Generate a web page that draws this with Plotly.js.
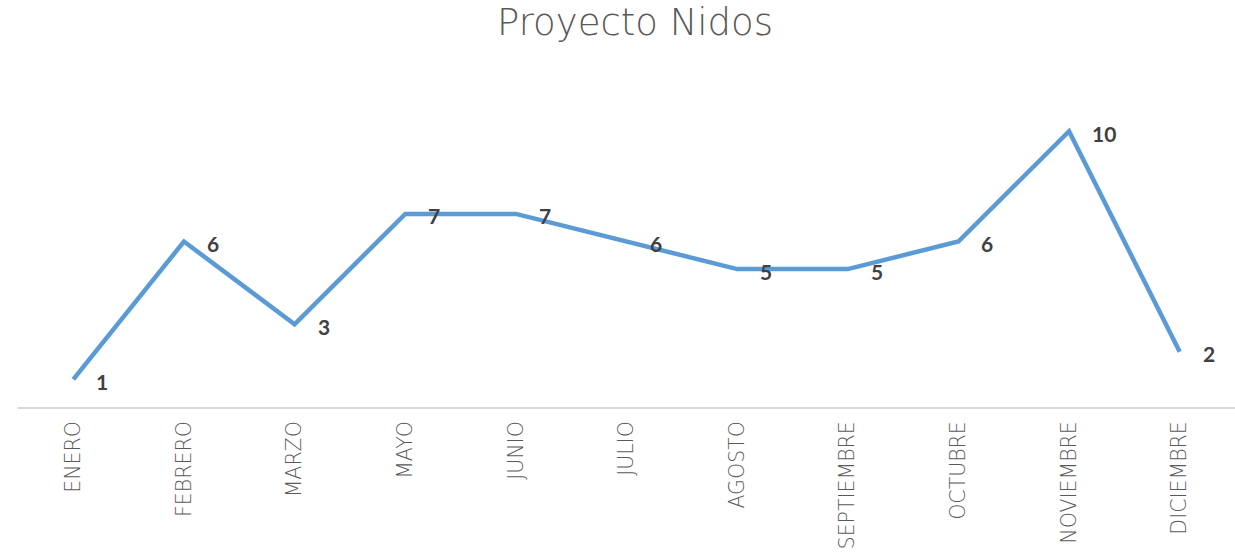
<!DOCTYPE html>
<html>
<head>
<meta charset="utf-8">
<script src="https://cdn.plot.ly/plotly-3.0.1.min.js"></script>
<style>html,body{margin:0;padding:0;background:#fff;}#chart{width:1235px;height:559px;}</style>
</head>
<body>
<div id="chart"></div>
<script>
var months = ["ENERO","FEBRERO","MARZO","MAYO","JUNIO","JULIO","AGOSTO","SEPTIEMBRE","OCTUBRE","NOVIEMBRE","DICIEMBRE"];
var values = [1, 6, 3, 7, 7, 6, 5, 5, 6, 10, 2];
var chartTitle = "Proyecto Nidos";

var trace = {
  x: months,
  y: values,
  type: "scatter",
  mode: "lines",
  line: {color: "#5B9BD5", width: 4.5},
  hoverinfo: "x+y"
};

var annotations = months.map(function(m, i){
  return {
    x: m, y: values[i], xref: "x", yref: "y",
    text: "<b>" + values[i] + "</b>",
    showarrow: false, xanchor: "left", yanchor: "middle",
    xshift: 21, yshift: -2,
    font: {family: "Lato, 'Open Sans', sans-serif", size: 21, color: "#404040"}
  };
});

var layout = {
  width: 1235, height: 559,
  margin: {l: 18, r: 0, t: 76, b: 152},
  paper_bgcolor: "#fff", plot_bgcolor: "#fff",
  showlegend: false,
  title: {
    text: chartTitle,
    font: {family: "'DejaVu Sans', sans-serif", size: 37, color: "#595959", weight: 200},
    x: 0.507, xanchor: "center", xref: "paper",
    y: 1 - 22/559, yanchor: "middle", yref: "container"
  },
  xaxis: {
    type: "category",
    range: [-0.5, 10.5],
    showgrid: false, zeroline: false,
    showline: true, linecolor: "#D9D9D9", linewidth: 2,
    ticks: "", tickangle: -90,
    ticklabelstandoff: 4,
    tickfont: {family: "'DejaVu Sans', sans-serif", size: 20.5, color: "#595959", weight: 200}
  },
  yaxis: {
    range: [0, 12],
    visible: false, showgrid: false, zeroline: false
  },
  annotations: annotations
};

Plotly.newPlot("chart", [trace], layout, {displayModeBar: false, staticPlot: true});
</script>
</body>
</html>
